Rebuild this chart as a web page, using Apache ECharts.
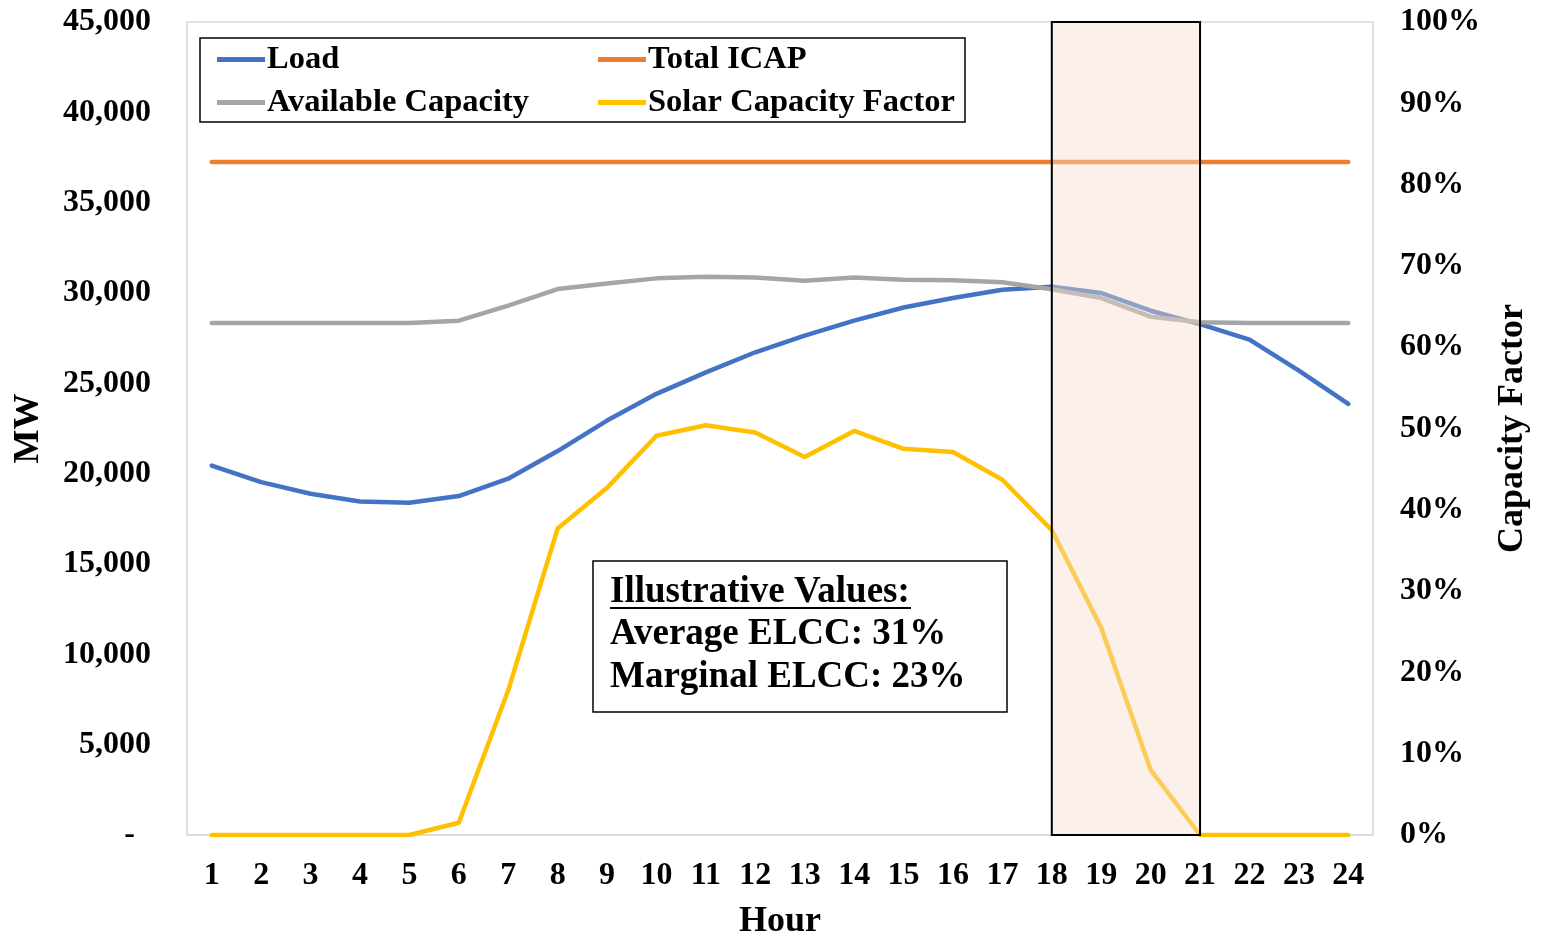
<!DOCTYPE html>
<html>
<head>
<meta charset="utf-8">
<script src="https://cdn.jsdelivr.net/npm/echarts@6/dist/echarts.min.js"></script>
<style>
html,body{margin:0;padding:0;background:#fff;overflow:hidden;}
#chart{width:1542px;height:935px;}
</style>
</head>
<body>
<div id="chart"></div>
<script>
var hours = ['1','2','3','4','5','6','7','8','9','10','11','12','13','14','15','16','17','18','19','20','21','22','23','24'];
var loadMW = [20450, 19530, 18890, 18460, 18390, 18760, 19720, 21250, 22940, 24420, 25610, 26720, 27640, 28470, 29200, 29720, 30180, 30350, 30000, 29020, 28280, 27420, 25700, 23860];
var totalICAP = [37250, 37250, 37250, 37250, 37250, 37250, 37250, 37250, 37250, 37250, 37250, 37250, 37250, 37250, 37250, 37250, 37250, 37250, 37250, 37250, 37250, 37250, 37250, 37250];
var availableCapacity = [28340, 28340, 28340, 28340, 28340, 28470, 29300, 30220, 30530, 30810, 30900, 30860, 30680, 30860, 30730, 30710, 30590, 30210, 29720, 28690, 28380, 28340, 28340, 28340];
var solarCF = [0, 0, 0, 0, 0, 1.5, 17.8, 37.7, 42.7, 49.1, 50.4, 49.5, 46.5, 49.7, 47.5, 47.1, 43.7, 37.5, 25.5, 8.0, 0, 0, 0, 0];
var peakWindow = ['18', '21'];
var noteLines = ['Illustrative Values:', 'Average ELCC: 31%', 'Marginal ELCC: 23%'];

var FONT = 'Liberation Serif';
var chart = echarts.init(document.getElementById('chart'), null, {renderer: 'canvas'});

function legendAt(name, left, top) {
  return {
    data: [name], left: left, top: top, padding: 0,
    icon: 'rect', itemWidth: 48, itemHeight: 5, itemGap: 0,
    textStyle: {fontFamily: FONT, fontWeight: 'bold', fontSize: 32.5, color: '#000', padding: [0,0,0,-3]},
    selectedMode: false
  };
}

var option = {
  animation: false,
  backgroundColor: '#fff',
  grid: {left: 187, right: 169, top: 22, bottom: 100, outerBoundsMode: 'none', containLabel: false,
    show: true, borderColor: '#d9d9d9', borderWidth: 1.5, backgroundColor: 'transparent'},
  legend: [
    legendAt('Load', 217, 43),
    legendAt('Total ICAP', 598, 43),
    legendAt('Available Capacity', 217, 86),
    legendAt('Solar Capacity Factor', 598, 86)
  ],
  xAxis: {
    type: 'category', data: hours, boundaryGap: true,
    name: 'Hour', nameLocation: 'middle', nameGap: 69,
    nameTextStyle: {fontFamily: FONT, fontWeight: 'bold', fontSize: 36, color: '#000'},
    axisLine: {show: true, lineStyle: {color: '#d9d9d9', width: 1.5}},
    axisTick: {show: false},
    axisLabel: {fontFamily: FONT, fontWeight: 'bold', fontSize: 32, color: '#000', margin: 25, interval: 0}
  },
  yAxis: [
    {
      type: 'value', min: 0, max: 45000, interval: 5000,
      name: 'MW', nameLocation: 'middle', nameGap: 140,
      nameTextStyle: {fontFamily: FONT, fontWeight: 'bold', fontSize: 36, color: '#000'},
      axisLine: {show: false}, axisTick: {show: false}, splitLine: {show: false},
      axisLabel: {fontFamily: FONT, fontWeight: 'bold', fontSize: 32, color: '#000', margin: 36,
        formatter: function (v) { return v === 0 ? '-  ' : v.toLocaleString('en-US'); }}
    },
    {
      type: 'value', min: 0, max: 100, interval: 10, position: 'right',
      name: 'Capacity Factor', nameLocation: 'middle', nameGap: 122, nameRotate: 90,
      nameTextStyle: {fontFamily: FONT, fontWeight: 'bold', fontSize: 36, color: '#000'},
      axisLine: {show: false}, axisTick: {show: false}, splitLine: {show: false},
      axisLabel: {fontFamily: FONT, fontWeight: 'bold', fontSize: 32, color: '#000', margin: 27,
        formatter: function (v) { return v + '%'; }}
    }
  ],
  series: [
    {name: 'Load', type: 'line', data: loadMW, yAxisIndex: 0, symbol: 'none',
      lineStyle: {color: '#4472C4', width: 4.5, join: 'round', cap: 'round'}, itemStyle: {color: '#4472C4'}, z: 2},
    {name: 'Total ICAP', type: 'line', data: totalICAP, yAxisIndex: 0, symbol: 'none',
      lineStyle: {color: '#ED7D31', width: 4.5, cap: 'round'}, itemStyle: {color: '#ED7D31'}, z: 2},
    {name: 'Available Capacity', type: 'line', data: availableCapacity, yAxisIndex: 0, symbol: 'none',
      lineStyle: {color: '#A5A5A5', width: 4.5, join: 'round', cap: 'round'}, itemStyle: {color: '#A5A5A5'}, z: 2},
    {name: 'Solar Capacity Factor', type: 'line', data: solarCF, yAxisIndex: 1, symbol: 'none',
      lineStyle: {color: '#FFC000', width: 4.5, join: 'round', cap: 'round'}, itemStyle: {color: '#FFC000'}, z: 2},
    {name: 'peak', type: 'line', data: [], yAxisIndex: 0, symbol: 'none', z: 10, silent: true,
      markArea: {silent: true, z: 10,
        itemStyle: {color: 'rgba(246,222,206,0.42)', borderColor: '#000', borderWidth: 2},
        data: [[{xAxis: peakWindow[0]}, {xAxis: peakWindow[1]}]]}}
  ],
  graphic: [
    {type: 'rect', shape: {x: 200, y: 38, width: 765, height: 84}, style: {fill: 'transparent', stroke: '#000', lineWidth: 1.5}, z: 20},
    {type: 'rect', shape: {x: 593, y: 561, width: 414, height: 151}, style: {fill: '#fff', stroke: '#000', lineWidth: 1.5}, z: 20},
    {type: 'text', x: 610, y: 592, style: {text: noteLines[0], font: 'bold 37px "Liberation Serif"', fill: '#000', textVerticalAlign: 'middle'}, z: 21},
    {type: 'line', shape: {x1: 610, y1: 608, x2: 911, y2: 608}, style: {stroke: '#000', lineWidth: 2}, z: 21},
    {type: 'text', x: 610, y: 634, style: {text: noteLines[1], font: 'bold 37px "Liberation Serif"', fill: '#000', textVerticalAlign: 'middle'}, z: 21},
    {type: 'text', x: 610, y: 677, style: {text: noteLines[2], font: 'bold 37px "Liberation Serif"', fill: '#000', textVerticalAlign: 'middle'}, z: 21}
  ]
};
chart.setOption(option);
</script>
</body>
</html>
